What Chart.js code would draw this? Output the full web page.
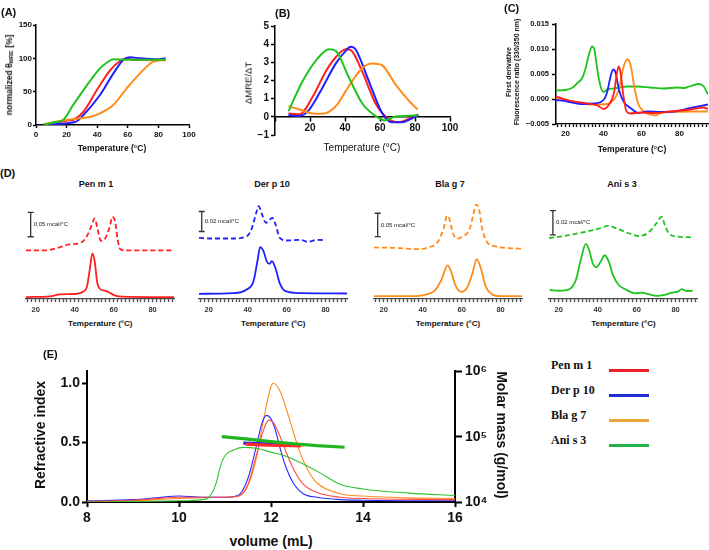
<!DOCTYPE html>
<html>
<head>
<meta charset="utf-8">
<title>Allergen thermal stability and SEC-MALS</title>
<script src="https://cdn.jsdelivr.net/npm/chart.js@4.4.1/dist/chart.umd.min.js"></script>
<style>
  html, body { margin: 0; padding: 0; background: #fff; overflow: hidden; }
  body { position: relative; width: 709px; height: 550px; font-family: "Liberation Sans", Arial, sans-serif; color: #111; }
  .plot { position: absolute; }
  .plot canvas { display: block; }
  .txt { position: absolute; white-space: nowrap; font-weight: bold; line-height: 1.15; text-align: center; }
  .txt sub { font-size: 70%; vertical-align: -0.25em; line-height: 0; }
  .key-line { position: absolute; height: 3px; }
</style>
</head>
<body>
<script>
// ---- (A) CD melting curves, normalized theta MRE [%] ----
const cdTempPen = [5, 20, 25.5, 31, 39.7, 48.4, 54.9, 59.3, 63.6, 70, 84.7];
const cdPen     = [1, 6.5, 9, 20, 52, 82, 96, 100, 97.5, 97.5, 97.5];
const cdTempDer = [6, 25.5, 31, 41.8, 50.5, 57, 61.4, 68, 79, 84.7];
const cdDer     = [1, 4.5, 15, 45, 77, 97.5, 101.5, 100, 98.5, 100];
const cdTempBla = [6, 16.8, 26.6, 34.2, 41.8, 50.5, 59.3, 68, 76.7, 84.7];
const cdBla     = [1.5, 6.5, 9.5, 11.5, 17.5, 30, 55, 77.5, 95, 97.5];
const cdTempAni = [5, 12, 17.9, 24, 30.9, 36, 41.8, 46, 50.5, 60, 70, 84.7];
const cdAni     = [0.5, 4, 8, 29, 52, 68, 85, 93, 98.5, 98, 98, 98];

// ---- (B) first derivative of MRE ----
const dTempPen = [7.7, 14, 21.5, 29, 34.7, 40.4, 43.2, 49.8, 57.4, 64.9, 70.6, 76.2, 81.9];
const dPen     = [0.19, 0.14, 1.1, 2.5, 3.28, 3.72, 3.68, 2.5, 0.75, -0.12, -0.3, -0.12, 0.14];
const dTempDer = [7.7, 14, 19.6, 27.2, 34.7, 40.4, 43.2, 46, 53.6, 61.1, 66.8, 72.5, 78.1, 81.9];
const dDer     = [0.1, 0.05, 0.4, 1.62, 2.93, 3.63, 3.86, 3.72, 1.97, 0.23, -0.3, -0.3, -0.09, 0.09];
const dTempBla = [7.7, 14, 21.5, 27.2, 34.7, 42.3, 49.8, 55.5, 61.1, 68.7, 76.2, 81.5];
const dBla     = [0.58, 0.4, 0.19, 0.17, 0.58, 1.71, 2.67, 2.93, 2.84, 1.8, 0.92, 0.4];
const dTempAni = [7.7, 15.8, 23.4, 30.9, 34.7, 42.3, 49.8, 57.4, 63, 68.7, 74.3, 81.9];
const dAni     = [0.31, 1.97, 3.1, 3.72, 3.63, 2.15, 0.75, 0.05, -0.2, 0.02, 0.05, 0.09];

// ---- (C) nanoDSF first derivative (330/350 nm) ----
const fTempPen = [15, 21, 29.7, 36.7, 40.2, 42.9, 45.5, 47.2, 48.1, 49, 50.4, 52.1, 54.2, 59.5, 66.5, 75.2, 85.8, 92.8, 95];
const fPen     = [0.0005, -0.0002, -0.0008, -0.0013, -0.002, -0.0011, 0.0012, 0.0055, 0.0065, 0.0052, 0.0009, -0.0025, -0.0029, -0.0027, -0.0028, -0.0025, -0.0021, -0.0017, -0.002];
const fTempDer = [15, 21, 28, 34.9, 40.2, 42, 43.7, 45.1, 46.4, 48.1, 50.7, 54.2, 58.6, 63, 70, 77, 85.8, 95];
const fDer     = [-0.0002, -0.0005, -0.001, -0.0009, -0.0001, 0.0015, 0.0045, 0.0059, 0.0052, 0.0019, -0.0006, -0.0018, -0.0028, -0.0025, -0.0026, -0.0025, -0.0018, -0.0011];
const fTempBla = [15, 23.8, 33.2, 42, 45.5, 48.1, 50.4, 52.5, 54.2, 56, 58.1, 61.2, 64.7, 67.4, 70, 77, 85.8, 95];
const fBla     = [0.0002, -0.0005, -0.0011, -0.001, -0.0001, 0.0019, 0.0062, 0.0079, 0.0069, 0.0029, -0.0008, -0.0025, -0.0031, -0.0033, -0.0028, -0.0026, -0.0025, -0.0025];
const fTempAni = [15, 20, 23.8, 26.2, 28.8, 30.6, 32.3, 34, 35.2, 37, 38.8, 40.2, 42, 47.2, 52.5, 57.7, 64.7, 71.7, 78.8, 82.3, 85.8, 90.2, 92.8, 95];
const fAni     = [0.0017, 0.0018, 0.0023, 0.0032, 0.0042, 0.0062, 0.0089, 0.0105, 0.0099, 0.0052, 0.0021, 0.0014, 0.0019, 0.0022, 0.0025, 0.0025, 0.0023, 0.0021, 0.0023, 0.0022, 0.0026, 0.003, 0.0025, 0.0009];

// ---- (D) DSC thermograms, µcal/°C (dashed trace stacked above solid) ----
const dscNames = ['Pen m 1', 'Der p 10', 'Bla g 7', 'Ani s 3'];
const dscTempPenSolid = [15, 27.3, 32.3, 37.5, 40.9, 44.3, 46.3, 47.7, 49.1, 50.3, 51.5, 52.8, 55.4, 58, 60.5, 64.8, 78.5, 91];
const dscPenSolid     = [4, 5.5, 9.6, 10.2, 10.8, 14.9, 25.2, 59.4, 93.6, 76.4, 35.4, 21.1, 17, 12.9, 7.5, 4.7, 4, 4];
const dscTempPenDash  = [15, 25.3, 32.1, 37.2, 43.2, 46.1, 48.8, 50.2, 51.7, 53.4, 55.7, 58, 59.4, 60.8, 62.1, 63.5, 66.3, 91];
const dscPenDash      = [99.8, 99.8, 105.9, 112.1, 115.4, 127.7, 151.7, 165.4, 144.9, 119.5, 124.4, 148.2, 168.7, 158.4, 120.9, 101.8, 99.8, 99.8];
const dscTempDerSolid = [15, 32.6, 39.5, 43, 45, 46.4, 48.1, 49.9, 51.2, 52.4, 54.2, 56.4, 59.4, 67.1, 91];
const dscDerSolid     = [5.2, 5.8, 9.5, 17.8, 37.8, 51.8, 47.8, 37.2, 35.2, 37.8, 31.2, 16.2, 7.8, 5.8, 5.5];
const dscTempDerDash  = [15, 22.4, 32.7, 39.6, 42.2, 44.4, 45.6, 47.4, 49.4, 51.4, 52.7, 54.3, 56.5, 60.3, 67.2, 70.7, 75.8, 80.1];
const dscDerDash      = [61.2, 60.5, 60.5, 62.8, 71.2, 86.2, 92.8, 84.5, 76.2, 79.5, 81.2, 74.5, 61.2, 58.5, 59.2, 57.2, 59.2, 58.8];
const dscTempBlaSolid = [15, 36.8, 42, 46.3, 49.7, 52.8, 54.5, 57, 59.9, 62.8, 65.5, 67.7, 69.8, 72.3, 75.2, 79.5, 91];
const dscBlaSolid     = [6, 6, 9.7, 18.3, 41.9, 72, 59.8, 27.5, 15.5, 24.1, 54.2, 85.6, 67.1, 27.5, 11.2, 6, 6];
const dscTempBlaDash  = [15, 28.3, 36.8, 43.6, 47.9, 50.8, 52.5, 53.8, 55.5, 57.5, 60.6, 64, 66, 67.4, 68.8, 70.5, 72.8, 77.6, 84.4, 91];
const dscBlaDash      = [110.7, 109.2, 107.1, 111.4, 123.6, 152.2, 178.9, 170.3, 141.5, 129.4, 134.4, 148.8, 181, 202.5, 195.2, 152.2, 123.6, 112.9, 109.2, 107.9];
const dscTempAniSolid = [15.4, 20.4, 25.4, 28.8, 31.3, 33.9, 35.6, 37.6, 39.3, 41.5, 43.7, 45.7, 47.8, 50.8, 54.2, 59.2, 62.6, 66, 70.2, 74.4, 77.8, 81.2, 83.2, 85.4, 88.8];
const dscAniSolid     = [7.4, 6.8, 8, 15.6, 32.1, 45.3, 40.3, 28.8, 26.1, 30.7, 36, 30.7, 19.8, 11.5, 8, 4.7, 5.2, 4.1, 2.5, 3.3, 5.2, 6, 8.2, 6.6, 6.8];
const dscTempAniDash  = [15, 20.4, 27.2, 33.9, 40.7, 45.4, 50.8, 55.9, 61, 66, 70.2, 72.8, 74.5, 76.5, 81.2, 88.8];
const dscAniDash      = [50.2, 51.3, 53.2, 55.4, 57.9, 60.1, 57.4, 54.1, 51.8, 54.6, 62.3, 67.7, 60.9, 54.1, 51.3, 50.8];
// scale bars: position (°C), lower end and size (µcal/°C), printed label
const dscBarTemp  = [17.4, 16.4, 16.9, 17];
const dscBarFrom  = [127.7, 67.5, 134, 52.7];
const dscBarSize  = [50, 20, 50, 20];
const dscBarLabel = ['0.05 mcal/°C', '0.02 mcal/°C', '0.05 mcal/°C', '0.02 mcal/°C'];
const dscYMax     = [197, 96, 206, 79];

// ---- (E) SEC-MALS: refractive index + molar mass ----
const riVolPen = [8, 9, 10, 10.5, 11, 11.3, 11.5, 11.7, 11.85, 11.95, 12.05, 12.2, 12.35, 12.5, 12.7, 13, 13.5, 14, 16];
const riPen    = [0.005, 0.015, 0.04, 0.04, 0.04, 0.05, 0.15, 0.42, 0.62, 0.69, 0.67, 0.55, 0.4, 0.27, 0.15, 0.08, 0.04, 0.03, 0.02];
const riVolDer = [8, 9, 9.5, 10, 10.5, 11, 11.3, 11.5, 11.7, 11.8, 11.9, 12, 12.1, 12.2, 12.3, 12.5, 12.7, 13, 13.5, 14, 16];
const riDer    = [0.01, 0.02, 0.035, 0.05, 0.04, 0.04, 0.06, 0.2, 0.5, 0.66, 0.73, 0.7, 0.6, 0.45, 0.32, 0.15, 0.07, 0.04, 0.02, 0.015, 0.01];
const riVolBla = [8, 9, 10, 11, 11.3, 11.5, 11.7, 11.85, 12.05, 12.2, 12.4, 12.6, 12.8, 13, 13.5, 14, 15, 16];
const riBla    = [0, 0.01, 0.03, 0.04, 0.05, 0.14, 0.4, 0.72, 1.0, 0.93, 0.7, 0.45, 0.27, 0.16, 0.07, 0.05, 0.035, 0.03];
const riVolAni = [8, 10, 10.5, 10.65, 10.8, 10.9, 11, 11.2, 11.4, 11.7, 12, 12.3, 12.6, 13, 13.5, 14, 15, 16];
const riAni    = [0, 0.01, 0.02, 0.04, 0.15, 0.3, 0.39, 0.44, 0.46, 0.45, 0.42, 0.39, 0.34, 0.26, 0.15, 0.11, 0.075, 0.055];
const mmVolPen = [11.45, 12, 12.65];
const mmPen    = [77000, 74000, 72000];
const mmVolDer = [11.4, 12.45];
const mmDer    = [80000, 76000];
const mmVolBla = [11.5, 12.72];
const mmBla    = [76000, 74000];
const mmVolAni = [10.93, 11.5, 12, 12.5, 13, 13.6];
const mmAni    = [100000, 92000, 84000, 78000, 73000, 69000];
const riTicks  = [0, 0.5, 1.0];
const mmTicks  = [1e4, 1e5, 1e6];
const mmTickLabels = ['10⁴', '10⁵', '10⁶'];

// colours
const RED = '#ff1f1f', BLUE = '#1f1fff', ORANGE = '#ff8c1a', GREEN = '#1fc41f';
const KEY_COLORS = ['#ea2228', '#1f2fd2', '#eaa53a', '#22b04a'];

Chart.defaults.font.family = '"Liberation Sans", Arial, sans-serif';
Chart.defaults.animation = false;
Chart.defaults.plugins.legend.display = false;
Chart.defaults.plugins.tooltip.enabled = false;
Chart.defaults.elements.point.radius = 0;

const pts = (xs, ys) => xs.map((x, i) => ({ x: x, y: ys[i] }));
const minus = v => String(v).replace('-', '−');

function line(xs, ys, color, width, extra) {
    return Object.assign({
        data: pts(xs, ys), borderColor: color, borderWidth: width,
        cubicInterpolationMode: 'monotone', fill: false
    }, extra || {});
}

// builds an axis in the GraphPad look: outer line + outward ticks, no grid
function axis(o) {
    const s = {
        type: o.type || 'linear', min: o.min, max: o.max,
        afterFit: sc => {
            if (o.fit === undefined) return;
            if (sc.isHorizontal()) sc.height = o.fit; else sc.width = o.fit;
        },
        grid: { drawOnChartArea: false, drawTicks: true, tickLength: o.tickLen || 4, tickColor: o.color || '#000', tickWidth: o.width || 1.5 },
        border: { display: true, color: o.color || '#000', width: o.width || 1.5 },
        ticks: {
            autoSkip: false, maxRotation: 0, padding: o.pad === undefined ? 1 : o.pad,
            color: o.textColor || '#111', font: { size: o.size || 10, weight: 'bold' },
            callback: o.fmt || (v => minus(v))
        }
    };
    if (o.position) s.position = o.position;
    if (o.step) s.ticks.stepSize = o.step;
    if (o.tickValues) s.afterBuildTicks = sc => { sc.ticks = o.tickValues.map(v => ({ value: v })); };
    // minor ticks every few degrees, only the round ones get a label
    if (o.every) s.afterBuildTicks = sc => {
        const t = [];
        for (let v = o.every[0]; v <= o.every[1]; v += o.every[2]) t.push({ value: v });
        sc.ticks = t;
    };
    return s;
}

// places a canvas so the chart area lands on area {l,t,r,b}; pad = room for axes around it
function makeCanvas(area, pad) {
    const div = document.createElement('div');
    div.className = 'plot';
    div.style.left = (area.l - pad.l) + 'px';
    div.style.top = (area.t - pad.t) + 'px';
    div.style.width = (area.r - area.l + pad.l + pad.r) + 'px';
    div.style.height = (area.b - area.t + pad.t + pad.b) + 'px';
    const cv = document.createElement('canvas');
    div.appendChild(cv);
    document.body.appendChild(div);
    return cv;
}

function addText(html, x, y, size, o) {
    o = o || {};
    const d = document.createElement('div');
    d.className = 'txt';
    d.innerHTML = html;
    d.style.fontSize = size + 'px';
    d.style.left = x + 'px';
    d.style.top = y + 'px';
    const ax = o.left ? '0' : '-50%';
    d.style.transform = 'translate(' + ax + ', -50%)' + (o.rotate ? ' rotate(' + o.rotate + 'deg)' : '');
    if (o.weight) d.style.fontWeight = o.weight;
    if (o.family) d.style.fontFamily = o.family;
    document.body.appendChild(d);
}

// ---------- (A) ----------
new Chart(makeCanvas({ l: 36, t: 25, r: 189, b: 125 }, { l: 36, t: 10, r: 15, b: 20 }), {
    type: 'line',
    data: { datasets: [
        line(cdTempAni, cdAni, GREEN, 2), line(cdTempBla, cdBla, ORANGE, 2),
        line(cdTempDer, cdDer, BLUE, 2), line(cdTempPen, cdPen, RED, 2)
    ] },
    options: {
        responsive: true, maintainAspectRatio: false,
        layout: { padding: { left: 0, top: 10, right: 15, bottom: 0 } },
        scales: {
            x: axis({ min: 0, max: 100, step: 20, fit: 20, size: 8, tickLen: 3, pad: 2 }),
            y: axis({ min: 0, max: 150, step: 50, fit: 36, size: 8, tickLen: 3, pad: 1 })
        }
    }
});

// ---------- (B) ----------
new Chart(makeCanvas({ l: 275, t: 26, r: 450, b: 141 }, { l: 30, t: 10, r: 15, b: 2 }), {
    type: 'line',
    data: { datasets: [
        line(dTempAni, dAni, GREEN, 2), line(dTempBla, dBla, ORANGE, 2),
        line(dTempDer, dDer, BLUE, 2), line(dTempPen, dPen, RED, 2)
    ] },
    options: {
        responsive: true, maintainAspectRatio: false,
        layout: { padding: { left: 0, top: 10, right: 15, bottom: 0 } },
        scales: {
            x: axis({ min: 0, max: 100, step: 20, fit: 2, size: 10, tickLen: 4, pad: 1, position: { y: 0 }, fmt: v => (v === 0 ? '' : v) }),
            y: axis({ min: -1, max: 5, step: 1, fit: 30, size: 10, tickLen: 4, pad: 2 })
        }
    }
});

// ---------- (C) ----------
new Chart(makeCanvas({ l: 556, t: 24, r: 708, b: 124 }, { l: 40, t: 10, r: 2, b: 18 }), {
    type: 'line',
    data: { datasets: [
        line(fTempPen, fPen, RED, 1.8), line(fTempDer, fDer, BLUE, 1.8),
        line(fTempBla, fBla, ORANGE, 1.8), line(fTempAni, fAni, GREEN, 1.8)
    ] },
    options: {
        responsive: true, maintainAspectRatio: false,
        layout: { padding: { left: 0, top: 10, right: 2, bottom: 0 } },
        scales: {
            x: axis({ min: 15, max: 95, every: [16, 94, 2], fit: 18, size: 8, tickLen: 3, pad: 2, width: 1.3,
                      fmt: v => (v % 20 === 0 ? v : '') }),
            y: axis({ min: -0.005, max: 0.015, step: 0.005, fit: 40, size: 7.5, tickLen: 4, pad: 3,
                      fmt: v => minus(v.toFixed(3)) })
        }
    }
});

// ---------- (D) four DSC panels ----------
const scaleBar = {
    id: 'scaleBar',
    afterDatasetsDraw(chart, args, opts) {
        const ctx = chart.ctx, x = chart.scales.x, y = chart.scales.y;
        const px = x.getPixelForValue(opts.at);
        const y1 = y.getPixelForValue(opts.from), y2 = y.getPixelForValue(opts.from + opts.size);
        ctx.save();
        ctx.strokeStyle = '#333';
        ctx.lineWidth = 1.3;
        ctx.beginPath();
        ctx.moveTo(px, y1); ctx.lineTo(px, y2);
        ctx.moveTo(px - 3, y1); ctx.lineTo(px + 3, y1);
        ctx.moveTo(px - 3, y2); ctx.lineTo(px + 3, y2);
        ctx.stroke();
        ctx.fillStyle = '#222';
        ctx.font = '6px "Liberation Sans", Arial, sans-serif';
        ctx.textBaseline = 'middle';
        ctx.fillText(opts.label, px + 3, (y1 + y2) / 2);
        ctx.restore();
    }
};

const dscSets = [
    [dscTempPenSolid, dscPenSolid, dscTempPenDash, dscPenDash, RED],
    [dscTempDerSolid, dscDerSolid, dscTempDerDash, dscDerDash, BLUE],
    [dscTempBlaSolid, dscBlaSolid, dscTempBlaDash, dscBlaDash, ORANGE],
    [dscTempAniSolid, dscAniSolid, dscTempAniDash, dscAniDash, GREEN]
];
const dscLeft = [26.3, 199.3, 374, 549.4];
const dscTitleX = [96, 272, 450, 622];

dscSets.forEach((s, i) => {
    const l = dscLeft[i];
    new Chart(makeCanvas({ l: l, t: 203, r: l + 148, b: 299 }, { l: 2, t: 0, r: 8, b: 18 }), {
        type: 'line',
        data: { datasets: [
            line(s[0], s[1], s[4], 1.8),
            line(s[2], s[3], s[4], 1.8, { borderDash: [5, 3] })
        ] },
        options: {
            responsive: true, maintainAspectRatio: false,
            layout: { padding: { left: 2, top: 0, right: 8, bottom: 0 } },
            scales: {
                x: axis({ min: 15, max: 91, every: [16, 90, 2], fit: 18, size: 7.5, tickLen: 3, pad: 3, width: 1.3,
                          color: '#444', textColor: '#333', fmt: v => (v % 20 === 0 ? v : '') }),
                y: { type: 'linear', display: false, min: 0, max: dscYMax[i] }
            },
            plugins: {
                scaleBar: { at: dscBarTemp[i], from: dscBarFrom[i], size: dscBarSize[i], label: dscBarLabel[i] }
            }
        },
        plugins: [scaleBar]
    });
    addText(dscNames[i], dscTitleX[i], 184, 9);
    addText('Temperature (°C)', l + 74, 324, 8);
});

// ---------- (E) ----------
new Chart(makeCanvas({ l: 87, t: 368, r: 455, b: 502 }, { l: 50, t: 8, r: 45, b: 28 }), {
    type: 'line',
    data: { datasets: [
        line(mmVolAni, mmAni, '#1fb51f', 3.2, { yAxisID: 'y2', cubicInterpolationMode: 'default', tension: 0 }),
        line(mmVolPen, mmPen, '#ff2a2a', 3.2, { yAxisID: 'y2', cubicInterpolationMode: 'default', tension: 0 }),
        line(mmVolDer, mmDer, '#1f1fff', 3.2, { yAxisID: 'y2', cubicInterpolationMode: 'default', tension: 0 }),
        line(mmVolBla, mmBla, ORANGE, 3.2, { yAxisID: 'y2', cubicInterpolationMode: 'default', tension: 0 }),
        line(riVolAni, riAni, '#2ec42e', 1.1),
        line(riVolPen, riPen, '#ff4a4a', 1.1),
        line(riVolDer, riDer, '#2a2aff', 1.1),
        line(riVolBla, riBla, '#ff8c1a', 1.1)
    ] },
    options: {
        responsive: true, maintainAspectRatio: false,
        layout: { padding: { left: 0, top: 8, right: 0, bottom: 0 } },
        scales: {
            x: axis({ min: 8, max: 16, step: 2, fit: 28, size: 14, tickLen: 5, pad: 3, width: 2 }),
            y: axis({ min: 0, max: 1.1, tickValues: riTicks, fit: 50, size: 14, tickLen: 5, pad: 2, width: 2,
                      fmt: v => v.toFixed(1) }),
            y2: axis({ type: 'logarithmic', position: 'right', min: 1e4, max: 1e6, tickValues: mmTicks, fit: 45,
                       size: 14, tickLen: 7, pad: 3, width: 2, fmt: v => mmTickLabels[mmTicks.indexOf(v)] })
        }
    }
});

// ---------- legend for (E) ----------
dscNames.forEach((name, i) => {
    addText(name, 551, 366 + i * 25, 12, { left: true, family: '"Liberation Serif", "Times New Roman", serif' });
    const k = document.createElement('div');
    k.className = 'key-line';
    k.style.left = '609px';
    k.style.width = '40px';
    k.style.top = (368.5 + i * 25) + 'px';
    k.style.background = KEY_COLORS[i];
    document.body.appendChild(k);
});

// ---------- panel letters and axis titles ----------
addText('(A)', 1, 12, 11, { left: true });
addText('(B)', 275, 13, 11, { left: true });
addText('(C)', 504, 8, 11, { left: true });
addText('(D)', 0, 173, 11, { left: true });
addText('(E)', 43, 354, 11, { left: true });

addText('Temperature (°C)', 112, 149, 8.5);
addText('normalized θ<sub>MRE</sub> [%]', 10, 75, 8.5, { rotate: -90 });
addText('Temperature (°C)', 362, 148, 10, { weight: 'normal' });
addText('ΔMRE/ΔT', 249, 83, 9.5, { rotate: -90, weight: 'normal' });
addText('Temperature (°C)', 632, 150, 8.5);
addText('First derivative<br>Fluorescence ratio (330/350 nm)', 513, 72, 7, { rotate: -90 });

addText('Refractive index', 40, 435, 14, { rotate: -90 });
addText('volume (mL)', 271, 541, 14);
addText('Molar mass (g/mol)', 502, 435, 14, { rotate: 90 });
</script>
</body>
</html>
